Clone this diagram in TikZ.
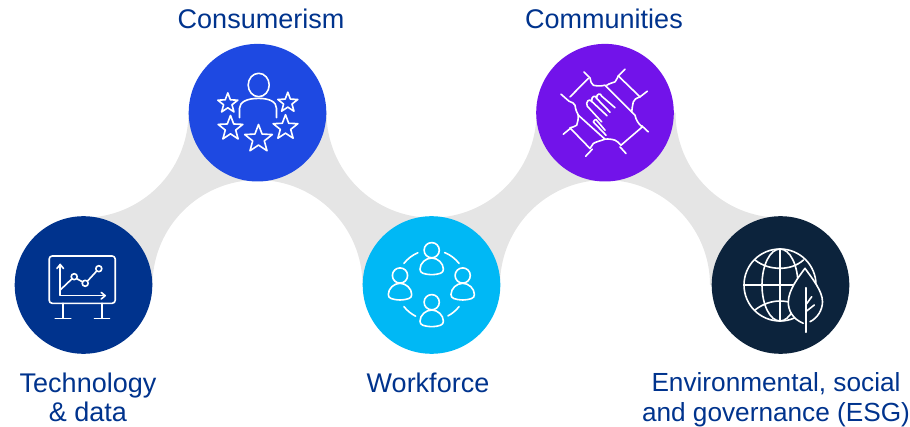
\documentclass[tikz,border=0pt]{standalone}
\usepackage{fontspec}
\setmainfont{Liberation Sans}
\definecolor{bandgrey}{HTML}{E5E5E5}
\definecolor{labelblue}{HTML}{00338D}
\definecolor{techblue}{HTML}{00338D}
\definecolor{consumerblue}{HTML}{1E49E2}
\definecolor{workforcecyan}{HTML}{00B8F5}
\definecolor{communitypurple}{HTML}{7213EA}
\definecolor{esgnavy}{HTML}{0C233C}
\tikzset{
  hubcircle/.style={circle,draw=none,minimum size=137.6pt,inner sep=0pt},
  hublabel/.style={text=labelblue,align=center,inner sep=0pt,font=\fontsize{27}{29.5}\selectfont},
  iconline/.style={draw=white,line width=1.6pt,line cap=round,line join=round},
}
\newcommand{\ratingstar}[3]{\draw[iconline] (#1,#2) +(90:#3) -- +(126:0.42*#3) -- +(162:#3) -- +(198:0.42*#3) -- +(234:#3) -- +(270:0.42*#3) -- +(306:#3) -- +(342:0.42*#3) -- +(18:#3) -- +(54:0.42*#3) -- cycle;}
\newcommand{\teamperson}[2]{%
\begin{scope}[shift={(#1,#2)}]
\draw[iconline] (0,0) circle (7.6);
\draw[iconline] (-11.7,-19) .. controls (-11.7,-13) and (-6,-7.8) .. (0,-7.8) .. controls (6,-7.8) and (11.7,-13) .. (11.7,-19) .. controls (11.7,-23) and (8,-24) .. (0,-24.5) .. controls (-8,-24) and (-11.7,-23) .. (-11.7,-19) -- cycle;
\end{scope}}
\begin{document}
\begin{tikzpicture}[x=1pt,y=1pt]
\useasboundingbox (0,0) rectangle (910,426);
% Drawing grey band
\fill[bandgrey] (83.5,208.3) arc[start angle=270,end angle=360,radius=105] -- (326.5,313.3) arc[start angle=180,end angle=360,radius=105] -- (675.5,313.3) arc[start angle=180,end angle=270,radius=105] -- (780.5,141) -- (710,141) arc[start angle=0,end angle=180,radius=105] -- (362.5,141) arc[start angle=0,end angle=180,radius=105] -- (83.5,141) -- cycle;
% Drawing circles
\node[hubcircle,fill=techblue] (tech) at (83.5,141) {};
\node[hubcircle,fill=consumerblue] (consumer) at (257.5,313.3) {};
\node[hubcircle,fill=workforcecyan] (workforce) at (431.5,141) {};
\node[hubcircle,fill=communitypurple] (community) at (605,313.3) {};
\node[hubcircle,fill=esgnavy] (esg) at (780.5,141) {};
% Drawing labels
\node[hublabel] (techlabel) at (88,28.5) {Technology\\\& data};
\node[hublabel] (consumerlabel) at (261,407) {Consumerism};
\node[hublabel] (workforcelabel) at (428,43.5) {Workforce};
\node[hublabel] (communitylabel) at (604,407) {Communities};
\node[hublabel,font=\fontsize{26.2}{29.5}\selectfont] (esglabel) at (776,26.5) {Environmental, social\\and governance (ESG)};
% Technology icon: chart on a screen
\begin{scope}[shift={(tech.center)}]
\draw[iconline,rounded corners=3pt] (-34.3,-18.3) rectangle (31.7,29);
\draw[iconline] (-20.7,-18.3) -- (-20.7,-33.3);
\draw[iconline] (18.3,-18.3) -- (18.3,-33.3);
\draw[iconline] (-28.3,-33.3) -- (-12.7,-33.3);
\draw[iconline] (11,-33.3) -- (26,-33.3);
\draw[iconline] (-26.6,16.5) -- (-23.3,20.5) -- (-20,16.5);
\draw[iconline] (-23.3,20.5) -- (-23.3,-10.7) -- (21.7,-10.7);
\draw[iconline] (17.7,-7.4) -- (21.7,-10.7) -- (17.7,-14);
\draw[iconline] (-23.3,-5) -- (-11.3,6.4);
\draw[iconline] (-6.6,6.2) -- (-1,3.2);
\draw[iconline] (3.9,3.8) -- (13.2,14);
\draw[iconline] (-9.3,8.3) circle (3);
\draw[iconline] (1.7,1.7) circle (3);
\draw[iconline] (15.3,16.3) circle (3);
\end{scope}
% Consumerism icon: person and stars
\begin{scope}[shift={(consumer.center)}]
\draw[iconline] (1.2,27.7) ellipse (10.5 and 11.7);
\draw[iconline] (-18,-5) -- (-18,4.3) .. controls (-18,11) and (-10,14.3) .. (1,14.3) .. controls (12,14.3) and (19,11) .. (19,4.3) -- (19,-5);
\ratingstar{-29.7}{9.3}{10.5}
\ratingstar{30.3}{10}{10.5}
\ratingstar{-27}{-15.7}{13}
\ratingstar{28}{-15}{13}
\ratingstar{1}{-26.3}{14.5}
\end{scope}
% Workforce icon: four people in a ring
\begin{scope}[shift={(workforce.center)}]
\teamperson{0.2}{34.8}
\teamperson{-31.5}{9.5}
\teamperson{31.2}{9.5}
\teamperson{0.2}{-17.2}
\draw[iconline] (113:35) arc[start angle=113,end angle=142,radius=35];
\draw[iconline] (38:35) arc[start angle=38,end angle=68,radius=35];
\draw[iconline] (218:35) arc[start angle=218,end angle=243,radius=35];
\draw[iconline] (298:35) arc[start angle=298,end angle=322,radius=35];
\end{scope}
% Communities icon: joined hands
\begin{scope}[shift={(community.center)}]
\draw[iconline] (-21,40.8) -- (-15,34.8) .. controls (-14,31) and (-14,29) .. (-11.7,27.5) .. controls (-8,26.5) and (-4,26.5) .. (0,27.5) -- (30,-2.5) .. controls (31,-7) and (33,-11) .. (37.3,-14.2);
\draw[iconline] (-16.7,34.2) -- (-35,15.8);
\draw[iconline] (-44,18.5) -- (-36,11.5) .. controls (-33,10.5) and (-31,9.5) .. (-30,7.5) .. controls (-29.5,3) and (-28,0) .. (-26.7,-2.5) -- (0,-26.5) .. controls (-4,-28) and (-9,-29) .. (-11.7,-30.8) .. controls (-13,-32.5) and (-14,-34) .. (-15,-35.8);
\draw[iconline] (20,43.5) -- (13.3,36.8) -- (35,15.8);
\draw[iconline] (42.3,21.5) -- (35,15.8) .. controls (31,14.5) and (29,13) .. (28.3,10.8) .. controls (27.5,7) and (27,4) .. (26.7,0.8);
\draw[iconline] (1.7,27.5) .. controls (5,29.5) and (8,30) .. (10,30.8) .. controls (11.5,33) and (12.5,35) .. (13.3,36.8);
\draw[iconline] (36.7,-13) -- (43.3,-19.2);
\draw[iconline] (37.3,-14.2) -- (16,-32.5) .. controls (14,-30) and (12,-28.5) .. (10,-27.5) .. controls (7,-26.5) and (3,-26) .. (0,-26.5);
\draw[iconline] (15,-34.2) -- (21,-40.8);
\draw[iconline] (-41.7,-21.5) -- (-34,-15.2);
\draw[iconline] (-35,-15.2) -- (-15,-35.8);
\draw[iconline] (-19.3,-43.5) -- (-12.7,-36.5);
\draw[iconline] (-35,-15.2) .. controls (-32,-14.5) and (-30,-13.5) .. (-28.3,-12.5) .. controls (-27,-9) and (-26.7,-6) .. (-26.7,-2.5);
% fingers
\draw[iconline] (-3.3,-9.2) -- (-17.7,6.5) .. controls (-20,10.5) and (-15.5,15) .. (-13.3,11.3) -- (2,-3);
\draw[iconline] (-13.3,11.3) .. controls (-14,17) and (-9,18) .. (-8.3,14.2) -- (5,0.5);
\draw[iconline] (-8.3,14.2) .. controls (-9,19.5) and (-4,20) .. (-3.3,16.5) -- (10,5);
\draw[iconline] (1,-22.5) -- (-11.7,-9.2) .. controls (-11,-7.5) and (-10,-7) .. (-9,-6.8) -- (0,-17.5);
\end{scope}
% ESG icon: globe and leaf
\begin{scope}[shift={(esg.center)}]
\draw[iconline] (-0.5,0) circle (36);
\draw[iconline] (-0.5,0) ellipse (18 and 36);
\draw[iconline] (-0.5,36) -- (-0.5,-36);
\draw[iconline] (-36.5,0) -- (36,0);
\draw[iconline] (-25.5,25) .. controls (-18,19) and (-9,16.7) .. (-0.5,16.7) .. controls (8,16.7) and (16,19) .. (23,25);
\draw[iconline] (-25.5,-25) .. controls (-18,-19) and (-9,-16) .. (-0.5,-16) .. controls (8,-16) and (17,-19) .. (25,-25);
\fill[esgnavy] (22.8,-38.3) .. controls (12,-34) and (7.5,-25) .. (7.8,-16.7) .. controls (8,-5) and (18,8) .. (24.5,16.7) .. controls (32,6) and (42,-6) .. (42,-16.7) .. controls (42,-25) and (37,-33) .. (29.5,-36.7) -- cycle;
\draw[iconline] (22.8,-38.3) .. controls (12,-34) and (7.5,-25) .. (7.8,-16.7) .. controls (8,-5) and (18,8) .. (24.5,16.7) .. controls (32,6) and (42,-6) .. (42,-16.7) .. controls (42,-25) and (37,-33) .. (29.5,-36.7);
\draw[iconline] (25.2,-2.7) -- (25.2,-47.3);
\draw[iconline] (25.2,-20) -- (31.2,-11.7);
\draw[iconline] (25.2,-26.7) -- (33.8,-20);
\end{scope}
\end{tikzpicture}
\end{document}
